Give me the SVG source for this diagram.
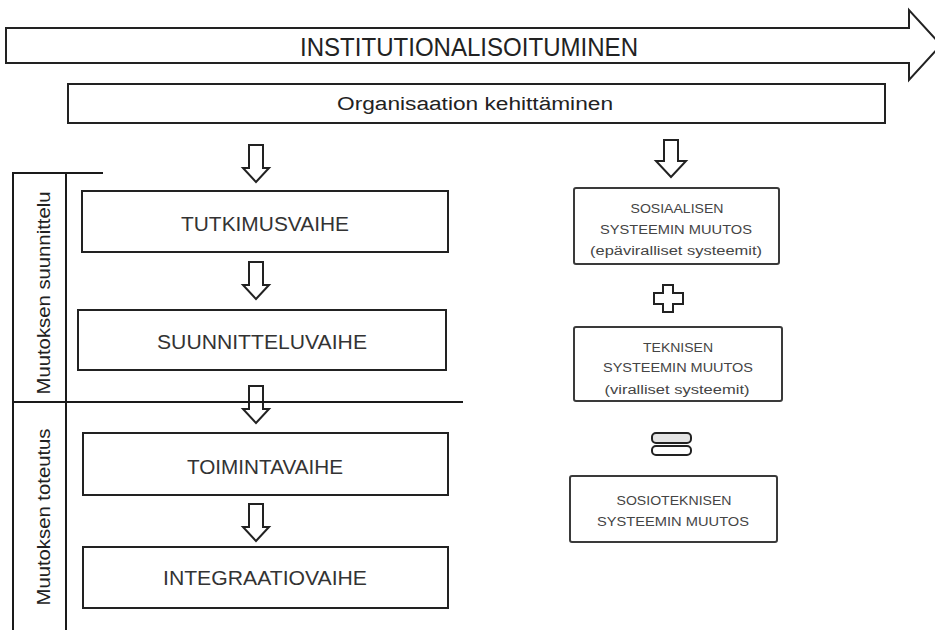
<svg xmlns="http://www.w3.org/2000/svg" width="935" height="630" viewBox="0 0 935 630">
  <style>
    .box { fill: #ffffff; stroke: #222222; stroke-width: 2; }
    .sbox { fill: #ffffff; stroke: #3a3a3a; stroke-width: 2; }
    .rule { fill: none; stroke: #1a1a1a; stroke-width: 2; }
    .hollow { fill: #ffffff; stroke: #222222; stroke-width: 2; stroke-linejoin: miter; }
    .big { font-family: "Liberation Sans", Arial, sans-serif; font-size: 26px; fill: #222222; text-anchor: middle; }
    .org { font-family: "Liberation Sans", Arial, sans-serif; font-size: 18px; fill: #222222; text-anchor: middle; }
    .phase { font-family: "Liberation Sans", Arial, sans-serif; font-size: 20.5px; fill: #333333; text-anchor: middle; }
    .side { font-family: "Liberation Sans", Arial, sans-serif; font-size: 18px; fill: #222222; text-anchor: middle; }
    .small { font-family: "Liberation Sans", Arial, sans-serif; font-size: 12.5px; fill: #444444; text-anchor: middle; }
  </style>

  <!-- top banner arrow -->
  <g id="institutionalisoituminen">
    <path class="hollow" d="M 6,28 H 909 V 10 L 941,45 L 909,80 V 63 H 6 Z"/>
    <text class="big" x="469" y="56" textLength="338" lengthAdjust="spacingAndGlyphs">INSTITUTIONALISOITUMINEN</text>
  </g>

  <g id="organisaation-kehittaminen">
    <rect class="box" x="68" y="84" width="817" height="39"/>
    <text class="org" x="475" y="110" textLength="276" lengthAdjust="spacingAndGlyphs">Organisaation kehittäminen</text>
  </g>

  <!-- side band with the two stage labels -->
  <g id="stage-band">
    <path class="rule" d="M 13,630 V 173 H 103"/>
    <path class="rule" d="M 66,173 V 630"/>
    <text class="side" transform="translate(50,293) rotate(-90)" x="0" y="0" textLength="203" lengthAdjust="spacingAndGlyphs">Muutoksen suunnittelu</text>
    <text class="side" transform="translate(50,517) rotate(-90)" x="0" y="0" textLength="177" lengthAdjust="spacingAndGlyphs">Muutoksen toteutus</text>
  </g>

  <g id="tutkimusvaihe">
    <rect class="box" x="82" y="191" width="366" height="61"/>
    <text class="phase" x="265" y="231" textLength="168" lengthAdjust="spacingAndGlyphs">TUTKIMUSVAIHE</text>
  </g>
  <g id="suunnitteluvaihe">
    <rect class="box" x="78" y="310" width="368" height="60"/>
    <text class="phase" x="262" y="349" textLength="210" lengthAdjust="spacingAndGlyphs">SUUNNITTELUVAIHE</text>
  </g>
  <g id="toimintavaihe">
    <rect class="box" x="83" y="433" width="365" height="62"/>
    <text class="phase" x="265" y="474" textLength="156" lengthAdjust="spacingAndGlyphs">TOIMINTAVAIHE</text>
  </g>
  <g id="integraatiovaihe">
    <rect class="box" x="83" y="547" width="365" height="61"/>
    <text class="phase" x="265" y="585" textLength="204" lengthAdjust="spacingAndGlyphs">INTEGRAATIOVAIHE</text>
  </g>

  <g id="sosiaalisen-systeemin-muutos">
    <rect class="sbox" x="574" y="188" width="205" height="76" rx="2"/>
    <text class="small" x="677" y="213" textLength="93" lengthAdjust="spacingAndGlyphs">SOSIAALISEN</text>
    <text class="small" x="676" y="234" textLength="152" lengthAdjust="spacingAndGlyphs">SYSTEEMIN MUUTOS</text>
    <text class="small" x="676" y="255" textLength="172" lengthAdjust="spacingAndGlyphs">(epäviralliset systeemit)</text>
  </g>
  <g id="teknisen-systeemin-muutos">
    <rect class="sbox" x="574" y="327" width="208" height="74" rx="2"/>
    <text class="small" x="678" y="352" textLength="70" lengthAdjust="spacingAndGlyphs">TEKNISEN</text>
    <text class="small" x="678" y="372" textLength="150" lengthAdjust="spacingAndGlyphs">SYSTEEMIN MUUTOS</text>
    <text class="small" x="677" y="394" textLength="145" lengthAdjust="spacingAndGlyphs">(viralliset systeemit)</text>
  </g>
  <g id="sosioteknisen-systeemin-muutos">
    <rect class="sbox" x="570" y="476" width="207" height="66" rx="2"/>
    <text class="small" x="674" y="505" textLength="115" lengthAdjust="spacingAndGlyphs">SOSIOTEKNISEN</text>
    <text class="small" x="673" y="526" textLength="152" lengthAdjust="spacingAndGlyphs">SYSTEEMIN MUUTOS</text>
  </g>

  <!-- plus and equals signs between the system boxes -->
  <g id="plus">
    <path class="hollow" stroke-linejoin="round" d="M 663,285 H 673 V 293 H 683 V 304 H 673 V 312 H 663 V 304 H 654 V 293 H 663 Z"/>
  </g>
  <g id="equals">
    <rect class="hollow" x="652" y="433" width="39" height="10" rx="4" fill="#e4e4e4" style="fill:#e4e4e4"/>
    <rect class="hollow" x="652" y="446" width="39" height="9" rx="4"/>
  </g>

  <!-- hollow flow arrows -->
  <g id="connectors">
    <path class="hollow" d="M 249,145 H 263 V 168 H 269 L 256,182 L 243,168 H 249 Z"/>
    <path class="hollow" d="M 249,262 H 263 V 285 H 269 L 256,299 L 243,285 H 249 Z"/>
    <path class="hollow" d="M 249,386 H 263 V 409 H 269 L 256,423 L 243,409 H 249 Z"/>
    <path class="hollow" d="M 249,504 H 263 V 527 H 269 L 256,541 L 243,527 H 249 Z"/>
    <path class="hollow" d="M 664,140 H 678 V 161 H 686 L 671,177 L 656,161 H 664 Z"/>
  </g>

  <!-- divider between planning and implementation -->
  <g id="stage-divider">
    <path class="rule" d="M 13,402 H 463"/>
  </g>
</svg>
